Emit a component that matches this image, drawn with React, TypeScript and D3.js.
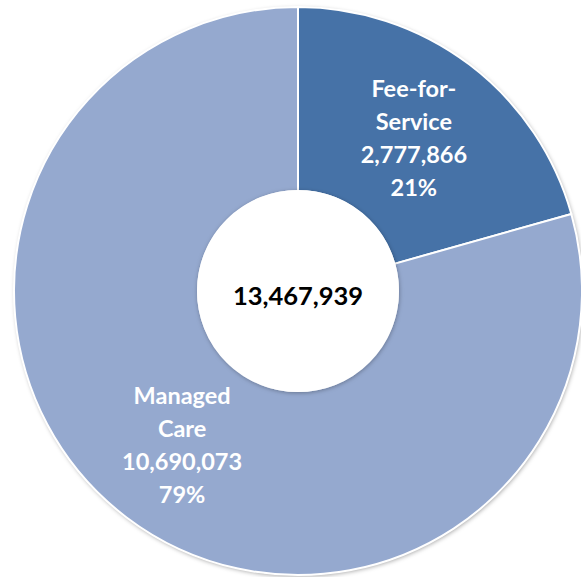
import React from "react";
import * as d3 from "d3";

const categories = ["Fee-for-Service", "Managed Care"];
const labelLines = [["Fee-for-", "Service"], ["Managed", "Care"]];
const values = [2777866, 10690073];
const colors = ["#4672A7", "#95A9CF"];

const W = 581;
const H = 577;
const cx = 298;
const cy = 291;
const outerR = 284;
const innerR = 100;

export default function App() {
  const total = d3.sum(values);
  const pie = d3.pie<number>().sort(null).value((d) => d)(values);
  const arc = d3.arc<d3.PieArcDatum<number>>().innerRadius(innerR).outerRadius(outerR);
  const fmt = d3.format(",");
  const font = "Lato, 'Open Sans', sans-serif";
  return (
    <svg
      width={W}
      height={H}
      style={{ position: "absolute", left: 0, top: 0, background: "#fff" }}
    >
      <defs>
        <filter id="sh" x="-10%" y="-10%" width="120%" height="120%">
          <feDropShadow dx="1" dy="1.5" stdDeviation="2" floodColor="#000" floodOpacity="0.35" />
        </filter>
        <filter id="ish" x="-20%" y="-20%" width="140%" height="140%">
          <feDropShadow dx="0.5" dy="1" stdDeviation="2" floodColor="#000" floodOpacity="0.3" />
        </filter>
      </defs>
      <g transform={`translate(${cx},${cy})`}>
        <circle r={outerR} fill="#fff" filter="url(#sh)" />
        {pie.map((p, i) => (
          <path key={categories[i]} d={arc(p) || ""} fill={colors[i]} stroke="#fff" strokeWidth={2} />
        ))}
        <circle r={innerR} fill="#fff" stroke="#fff" strokeWidth={2} filter="url(#ish)" />
        <text
          x={0}
          y={14}
          textAnchor="middle"
          fontFamily={font}
          fontWeight="bold"
          fontSize={25.5}
          fill="#000"
        >
          {fmt(total)}
        </text>
        {pie.map((p, i) => {
          const [lx, ly] = arc.centroid(p);
          const lines = [...labelLines[i], fmt(values[i]), Math.round((values[i] / total) * 100) + "%"];
          return (
            <text
              key={"l" + i}
              textAnchor="middle"
              fontFamily={font}
              fontWeight="bold"
              fontSize={23.5}
              fill="#fff"
            >
              {lines.map((t, j) => (
                <tspan key={j} x={lx} y={ly + (j - 1.5) * 33 + 9}>
                  {t}
                </tspan>
              ))}
            </text>
          );
        })}
      </g>
    </svg>
  );
}
